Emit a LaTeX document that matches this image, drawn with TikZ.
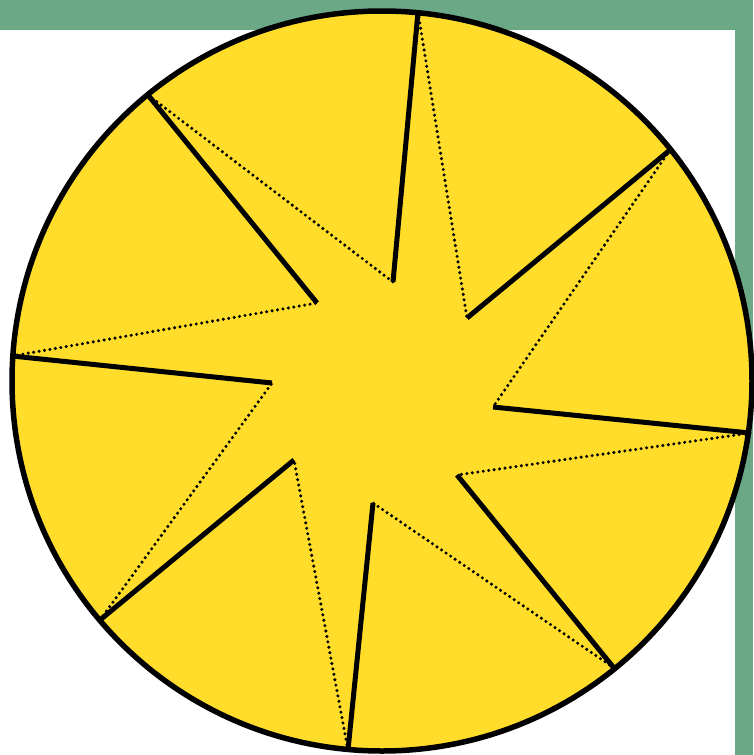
\documentclass[tikz,border=0pt]{standalone}
\definecolor{bggreen}{HTML}{6AA886}
\definecolor{sunyellow}{HTML}{FFDD2A}
\tikzset{
  spoke/.style={draw=black, line width=5pt},
  dotline/.style={draw=black, line width=3.4pt, line cap=round, dash pattern=on 0pt off 5.5pt},
}
\begin{document}
\begin{tikzpicture}[x=1pt,y=-1pt]
\useasboundingbox (0,0) rectangle (753,755);
\fill[bggreen] (0,0) rectangle (753,755);
\fill[white] (0,30) rectangle (735,755);
\node[circle, draw=black, line width=5.5pt, fill=sunyellow, minimum size=740pt, inner sep=0pt] (c) at (382,381) {};
% rim points
\coordinate (r1) at (418,12);
\coordinate (r2) at (670,150);
\coordinate (r3) at (750,433);
\coordinate (r4) at (614,668);
\coordinate (r5) at (348,750);
\coordinate (r6) at (100,620);
\coordinate (r7) at (12,356);
\coordinate (r8) at (148,95);
% inner points
\coordinate (i1) at (393,282);
\coordinate (i2) at (467,318);
\coordinate (i3) at (493,407);
\coordinate (i4) at (457,475);
\coordinate (i5) at (373,503);
\coordinate (i6) at (294,460);
\coordinate (i7) at (272,383);
\coordinate (i8) at (317,303);
% dotted lines
\draw[dotline] (r8) -- (i1);
\draw[dotline] (r1) -- (i2);
\draw[dotline] (r2) -- (i3);
\draw[dotline] (r3) -- (i4);
\draw[dotline] (r4) -- (i5);
\draw[dotline] (r5) -- (i6);
\draw[dotline] (r6) -- (i7);
\draw[dotline] (r7) -- (i8);
% solid spokes
\draw[spoke] (r1) -- (i1);
\draw[spoke] (r2) -- (i2);
\draw[spoke] (r3) -- (i3);
\draw[spoke] (r4) -- (i4);
\draw[spoke] (r5) -- (i5);
\draw[spoke] (r6) -- (i6);
\draw[spoke] (r7) -- (i7);
\draw[spoke] (r8) -- (i8);
\end{tikzpicture}
\end{document}
